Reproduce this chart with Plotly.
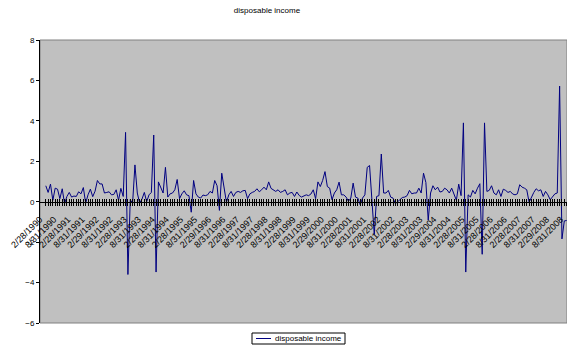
import pandas as pd
import plotly.graph_objects as go

# Monthly percent change in disposable income, Feb 1990 onward
income_change = [
    0.79, 0.46, 0.87, 0.07, 0.67, 0.62, 0.15, 0.64, -0.10, 0.26,
    0.46, 0.23, 0.28, 0.26, 0.49, 0.39, 0.70, -0.07, 0.34, 0.62,
    0.25, 0.52, 1.05, 0.88, 0.88, 0.43, 0.46, 0.49, 0.34, 0.36,
    0.59, 0.07, 0.66, 0.26, 3.43, -3.60, 0.10, -0.07, 1.82, 0.43,
    -0.07, 0.13, 0.46, 0.00, 0.34, 0.46, 3.30, -3.48, 0.98, 0.72,
    0.43, 1.70, 0.23, 0.39, 0.43, 0.59, 1.10, 0.15, 0.39, 0.54,
    0.34, 0.30, -0.52, 1.05, 0.39, 0.23, 0.18, 0.33, 0.30, 0.34,
    0.51, 0.43, 1.05, 0.79, -0.43, 1.41, 0.67, -0.03, 0.34, 0.51,
    0.26, 0.46, 0.51, 0.46, 0.54, 0.56, 0.15, 0.39, 0.46, 0.51,
    0.64, 0.49, 0.59, 0.72, 0.59, 0.98, 0.66, 0.59, 0.51, 0.59,
    0.46, 0.51, 0.59, 0.34, 0.43, 0.46, 0.26, 0.48, 0.31, 0.23,
    0.30, 0.34, 0.30, 0.38, 0.59, 0.15, 0.98, 0.75, 1.05, 1.49,
    0.75, 0.67, 0.10, 0.43, 0.59, 0.97, 0.34, 0.34, 0.23, 0.02,
    0.18, 0.92, 0.23, 0.18, -0.15, 0.18, 0.34, 1.70, 1.79, -0.23,
    -1.62, 0.26, 0.30, 2.36, 0.43, 0.43, 0.56, 0.23, 0.18, -0.10,
    0.02, 0.13, 0.21, 0.23, 0.30, 0.56, 0.39, 0.43, 0.43, 0.67,
    0.43, 1.41, 0.95, -0.92, 0.43, 0.79, 0.59, 0.72, 0.48, 0.51,
    0.67, 0.59, 0.43, 0.67, 0.34, 0.07, 0.87, 0.30, 3.90, -3.48,
    0.34, 0.23, 0.56, 0.39, 0.67, 0.89, -2.60, 3.90, 0.51, 0.56,
    0.79, 0.43, 0.34, 0.59, 0.26, 0.62, 0.56, 0.46, 0.51, 0.38,
    0.34, 0.39, 0.84, 0.72, 0.67, 0.59, -0.03, 0.26, 0.46, 0.64,
    0.54, 0.59, 0.26, 0.51, 0.34, 0.10, 0.26, 0.39, 0.43, 5.72,
    -1.84, -0.95, -0.93,
]
series_name = "disposable income"

# Month-end dates used as the category axis
months = pd.date_range(start="1990-02-28", periods=len(income_change), freq="ME")
month_labels = [f"{d.month}/{d.day}/{d.year}" for d in months]
# Every sixth month carries a printed label
tick_text = [lab if i % 6 == 0 else "" for i, lab in enumerate(month_labels)]

y_ticks = [-6, -4, -2, 0, 2, 4, 6, 8]

FONT = "Liberation Sans, Arial, sans-serif"
NAVY = "#000080"

W, H = 567, 345
M_L, M_R, M_T, M_B = 40, 0, 40, 22
PLOT_W, PLOT_H = W - M_L - M_R, H - M_T - M_B


def px_x(px):
    """Pixel column -> paper x."""
    return (px - M_L) / PLOT_W


def px_y(py):
    """Pixel row -> paper y."""
    return (H - M_B - py) / PLOT_H


fig = go.Figure()
fig.add_trace(go.Scatter(
    x=month_labels, y=income_change, mode="lines",
    name=series_name,
    line=dict(color=NAVY, width=1),
    xaxis="x", yaxis="y",
    showlegend=False,
))
# Transparent copy on the overlay axis so the upward tick half is drawn
fig.add_trace(go.Scatter(
    x=month_labels, y=income_change, mode="lines",
    line=dict(color="rgba(0,0,0,0)", width=0),
    showlegend=False, hoverinfo="skip",
    xaxis="x2", yaxis="y",
))

y_min, y_max = -6, 8
zero_pos = (0 - y_min) / (y_max - y_min)
x_range = [-2.47, 222.15]

fig.update_layout(
    width=W, height=H,
    margin=dict(l=M_L, r=M_R, t=M_T, b=M_B),
    paper_bgcolor="white",
    plot_bgcolor="#C0C0C0",
    font=dict(family=FONT, size=8, color="black"),
    title=dict(
        text=series_name,
        x=267 / W, xref="container", xanchor="center",
        y=1 - 10 / H, yref="container", yanchor="middle",
        font=dict(family=FONT, size=8, color="black"),
    ),
    showlegend=False,
    xaxis=dict(
        type="category",
        range=x_range,
        anchor="free", position=zero_pos,
        tickmode="array", tickvals=month_labels, ticktext=tick_text,
        tickangle=-45,
        ticklabelshift=-6, ticklabelstandoff=5,
        ticks="outside", ticklen=3, tickwidth=1, tickcolor="black",
        showline=True, linecolor="black", linewidth=1,
        showgrid=False, zeroline=False,
        tickfont=dict(family=FONT, size=9, color="black"),
        automargin=False,
    ),
    xaxis2=dict(
        type="category",
        range=x_range,
        overlaying="x",
        anchor="free", position=zero_pos,
        tickmode="array", tickvals=month_labels,
        ticktext=[""] * len(month_labels),
        ticks="inside", ticklen=3, tickwidth=1, tickcolor="black",
        showline=False, showgrid=False, zeroline=False,
        automargin=False,
    ),
    yaxis=dict(
        range=[y_min, y_max],
        tickmode="array", tickvals=y_ticks,
        ticks="outside", ticklen=3, tickwidth=1, tickcolor="black",
        showline=True, linecolor="black", linewidth=1,
        showgrid=False, zeroline=False,
        tickfont=dict(family=FONT, size=8, color="black"),
        automargin=False,
    ),
)

# Gray frame around the plot area
fig.add_shape(
    type="rect", xref="paper", yref="paper",
    x0=0, x1=1, y0=0, y1=1,
    line=dict(color="#808080", width=1),
    fillcolor="rgba(0,0,0,0)",
    layer="below",
)

# Legend box below the plot: frame, line sample and series name
fig.add_shape(
    type="rect", xref="paper", yref="paper",
    x0=px_x(252), x1=px_x(345), y0=px_y(344), y1=px_y(333),
    line=dict(color="black", width=1), fillcolor="white",
)
fig.add_shape(
    type="line", xref="paper", yref="paper",
    x0=px_x(256), x1=px_x(271), y0=px_y(338.5), y1=px_y(338.5),
    line=dict(color=NAVY, width=1),
)
fig.add_annotation(
    text=series_name, xref="paper", yref="paper",
    x=px_x(273), y=px_y(338.5), xanchor="left", yanchor="middle",
    showarrow=False, font=dict(family=FONT, size=8, color="black"),
)

fig.write_html("out.html")
